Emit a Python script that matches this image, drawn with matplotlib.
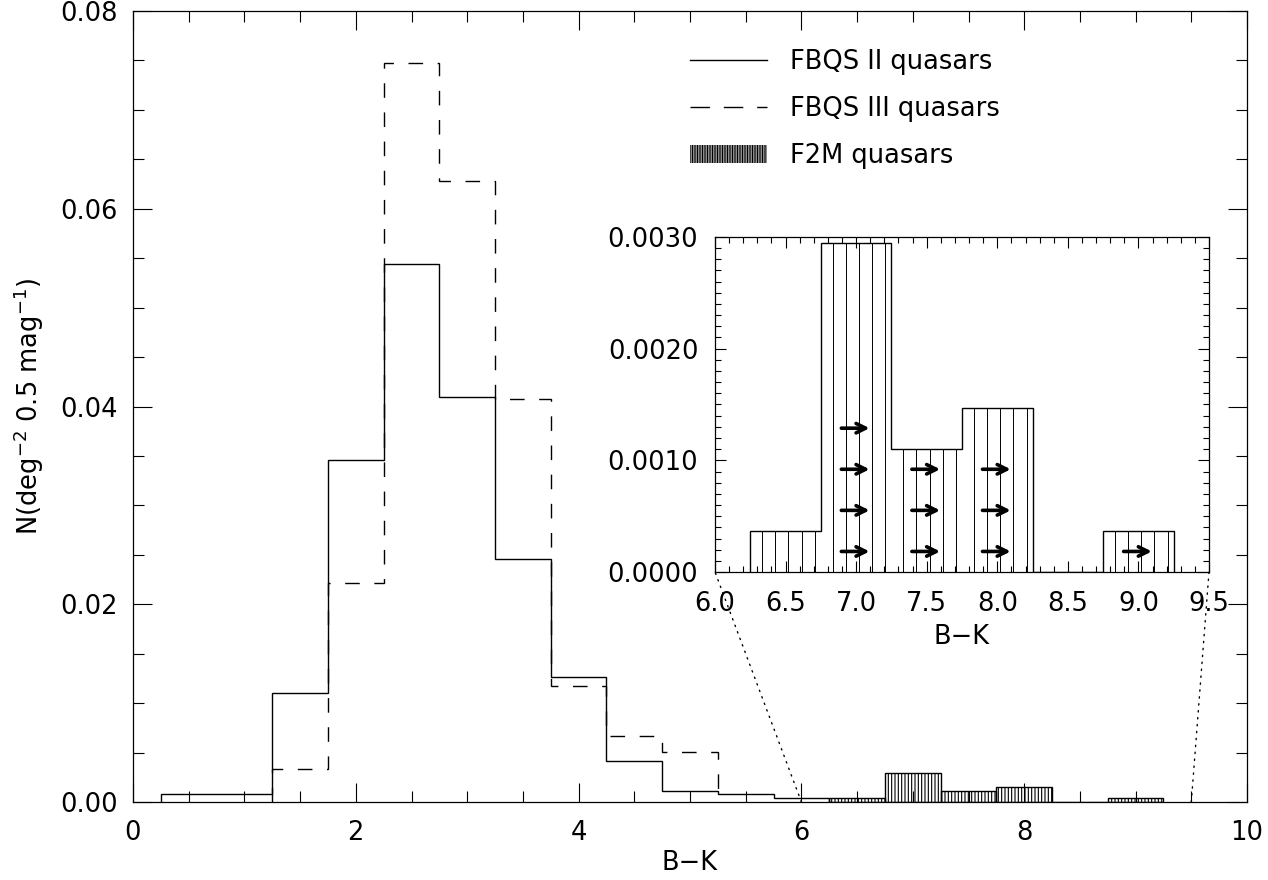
import numpy as np
import matplotlib
matplotlib.use('Agg')
import matplotlib.pyplot as plt
from matplotlib.lines import Line2D
from matplotlib.patches import Patch, ConnectionPatch
from matplotlib.ticker import MultipleLocator, FormatStrFormatter

plt.rcParams['font.family'] = ['DejaVu Sans']
plt.rcParams['mathtext.default'] = 'regular'
plt.rcParams['hatch.linewidth'] = 0.8

FS = 18.5

# B-K histogramme, bins de 0.5 mag
fbqs2_edges = np.arange(0.25, 6.26, 0.5)
fbqs2 = [0.00076, 0.00076, 0.0110, 0.0346, 0.0544, 0.0410,
         0.0246, 0.0126, 0.0041, 0.00113, 0.00076, 0.00038]

fbqs3_edges = np.arange(1.25, 5.26, 0.5)
fbqs3 = [0.00338, 0.0221, 0.0747, 0.0628, 0.0408, 0.0117, 0.0067, 0.0051]

f2m_edges = np.arange(6.25, 9.26, 0.5)
f2m_counts = np.array([1, 8, 3, 4, 0, 1])      # objets par bin
f2m_lower = [0, 4, 3, 3, 0, 1]                 # dont limites inferieures (fleches)
f2m_unit = 0.000368                            # deg^-2 par objet
f2m = f2m_counts * f2m_unit
f2m_centers = 0.5 * (f2m_edges[:-1] + f2m_edges[1:])

W, H = 1268, 880
fig = plt.figure(figsize=(W / 100, H / 100), dpi=100)

# --- panneau principal
ax = fig.add_axes([133 / W, 1 - 802 / H, 1114 / W, 791 / H])
ax.stairs(fbqs2, fbqs2_edges, color='black', lw=1.0)
ax.stairs(fbqs3, fbqs3_edges, color='black', lw=1.0, linestyle=(0, (10.5, 10.5)))
ax.bar(f2m_centers, f2m, width=0.5, fill=False, hatch='|||||', edgecolor='black', lw=1.0)

ax.set_xlim(0, 10)
ax.set_ylim(0, 0.08)
ax.xaxis.set_major_locator(MultipleLocator(2))
ax.xaxis.set_minor_locator(MultipleLocator(0.5))
ax.yaxis.set_major_locator(MultipleLocator(0.02))
ax.yaxis.set_minor_locator(MultipleLocator(0.005))
ax.yaxis.set_major_formatter(FormatStrFormatter('%.2f'))
ax.tick_params(which='both', direction='in', top=True, right=True, labelsize=FS, width=0.8)
ax.tick_params(which='major', length=14)
ax.tick_params(which='minor', length=8)
ax.tick_params(axis='x', which='major', pad=13)
ax.tick_params(axis='y', which='major', pad=11)
ax.set_xlabel('B−K', fontsize=FS, labelpad=3)
ax.set_ylabel('N(deg$^{-2}$ 0.5 mag$^{-1}$)', fontsize=FS, labelpad=10)
for s in ax.spines.values():
    s.set_linewidth(0.9)

handles = [Line2D([], [], color='black', lw=1.0),
           Line2D([], [], color='black', lw=1.0, linestyle=(0, (14, 10))),
           Patch(facecolor='none', edgecolor='black', lw=0, hatch='||||||||||')]
labels = ['FBQS II quasars', 'FBQS III quasars', 'F2M quasars']
fig.legend(handles, labels, loc='upper left', bbox_to_anchor=(690 / W, 1 - 49 / H),
           frameon=False, fontsize=FS, handlelength=3.0, handletextpad=0.9,
           labelspacing=0.82, borderpad=0, borderaxespad=0)

# --- zoom F2M
ins = fig.add_axes([715 / W, 1 - 572 / H, 494 / W, 335 / H])
ins.stairs(f2m, f2m_edges, color='black', lw=1.0)
for lo, v in zip(f2m_edges[:-1], f2m):
    if v > 0:
        xs = lo + 0.083 + 0.0935 * np.arange(5)
        ins.vlines(xs, 0, v, color='black', lw=0.7)
for c, n in zip(f2m_centers, f2m_lower):
    for k in range(n):
        y = (k + 0.5) * f2m_unit
        ins.annotate('', xy=(c + 0.095, y), xytext=(c - 0.105, y),
                     arrowprops=dict(arrowstyle='->', lw=2.6, color='black',
                                     mutation_scale=17, shrinkA=0, shrinkB=0))

ins.set_xlim(6.0, 9.5)
ins.set_ylim(0, 0.0030)
ins.xaxis.set_major_locator(MultipleLocator(0.5))
ins.xaxis.set_minor_locator(MultipleLocator(0.1))
ins.yaxis.set_major_locator(MultipleLocator(0.001))
ins.yaxis.set_minor_locator(MultipleLocator(0.0001))
ins.xaxis.set_major_formatter(FormatStrFormatter('%.1f'))
ins.yaxis.set_major_formatter(FormatStrFormatter('%.4f'))
ins.tick_params(which='both', direction='in', top=True, right=True, labelsize=FS, width=0.8)
ins.tick_params(which='major', length=8)
ins.tick_params(which='minor', length=4)
ins.tick_params(axis='x', which='major', pad=14)
ins.tick_params(axis='y', which='major', pad=12)
ins.set_xlabel('B−K', fontsize=FS, labelpad=5)
for s in ins.spines.values():
    s.set_linewidth(0.9)

# pointilles entre le zoom et l'axe principal
for xv in (6.0, 9.5):
    con = ConnectionPatch(xyA=(xv, 0), coordsA=ax.transData,
                          xyB=(xv, 0), coordsB=ins.transData,
                          color='black', lw=1.0, linestyle=(0, (1, 4)))
    fig.add_artist(con)

fig.savefig('out.png', dpi=100)
